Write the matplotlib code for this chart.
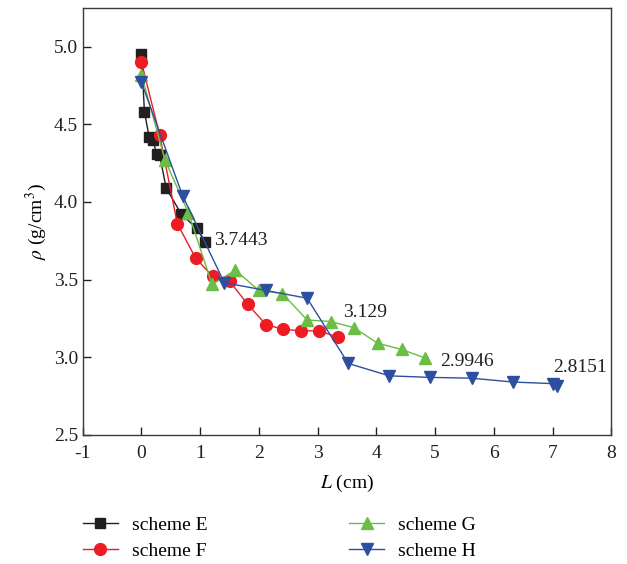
import matplotlib.pyplot as plt

# density along the sample for the four schemes
L_E = [0, 0.05, 0.13, 0.19, 0.26, 0.31, 0.42, 0.68, 0.94, 1.08]
rho_E = [4.95, 4.58, 4.42, 4.40, 4.31, 4.30, 4.09, 3.92, 3.83, 3.7443]

L_F = [0, 0.31, 0.61, 0.92, 1.21, 1.50, 1.81, 2.12, 2.41, 2.72, 3.02, 3.35]
rho_F = [4.90, 4.43, 3.86, 3.64, 3.52, 3.49, 3.34, 3.21, 3.18, 3.17, 3.17, 3.129]

L_G = [0, 0.40, 0.80, 1.20, 1.60, 2.00, 2.40, 2.82, 3.22, 3.62, 4.02, 4.43, 4.83]
rho_G = [4.82, 4.27, 3.93, 3.47, 3.56, 3.43, 3.41, 3.24, 3.23, 3.19, 3.09, 3.05, 2.9946]

L_H = [0, 0.70, 1.41, 2.12, 2.82, 3.52, 4.22, 4.92, 5.62, 6.33, 7.00, 7.07]
rho_H = [4.77, 4.04, 3.48, 3.43, 3.38, 2.96, 2.88, 2.87, 2.865, 2.84, 2.83, 2.8151]

plt.rcParams['font.family'] = ['Liberation Serif', 'DejaVu Serif']
plt.rcParams['mathtext.fontset'] = 'stix'
plt.rcParams['axes.unicode_minus'] = False

fig = plt.figure(figsize=(6.27, 5.64), dpi=100)
ax = fig.add_axes([0.132, 0.229, 0.843, 0.757])

ax.plot(L_E, rho_E, '-s', color='#231f20', lw=1, ms=7.5, label='scheme E')
ax.plot(L_F, rho_F, '-o', color='#ed1c24', lw=1, ms=8.5, label='scheme F')
ax.plot(L_G, rho_G, '-^', color='#6abd45', lw=1, ms=8.5, label='scheme G')
ax.plot(L_H, rho_H, '-v', color='#2e4fa0', lw=1, ms=8.5, label='scheme H')

# end values written next to each curve
ends = [(L_E, rho_E, '{:.4f}', (6.5, 1.0)),
        (L_F, rho_F, '{:.3f}', (3.6, 18)),
        (L_G, rho_G, '{:.4f}', (10.5, -2.5)),
        (L_H, rho_H, '{:.4f}', (-2.6, 13))]
for xs, ys, fmt, off in ends:
    ax.annotate(fmt.format(ys[-1]), (xs[-1], ys[-1]), xytext=off,
                textcoords='offset points', fontsize=14, color='#231f20',
                ha='left', va='center')

ax.set_xlim(-1, 8)
ax.set_ylim(2.5, 5.25)
ax.set_xticks(range(-1, 9))
ax.set_yticks([2.5, 3.0, 3.5, 4.0, 4.5, 5.0])
ax.set_yticklabels(['2.5', '3.0', '3.5', '4.0', '4.5', '5.0'])
ax.tick_params(direction='in', length=6, width=1, labelsize=14, colors='#231f20')
ax.tick_params(axis='x', pad=7)
for s in ax.spines.values():
    s.set_color('#3a3a3a')
    s.set_linewidth(1)

ax.set_xlabel(r'$L$ (cm)', fontsize=14, labelpad=8)
ax.set_ylabel(r'$\rho$ (g/cm$^3$)', fontsize=14, labelpad=3)

fig.legend(loc='upper left', bbox_to_anchor=(0.132, 0.085), ncol=2,
           frameon=False, fontsize=14, columnspacing=7.3, handlelength=1.8,
           handletextpad=0.72, labelspacing=0.46, borderpad=0,
           borderaxespad=0)

fig.savefig('out.png', dpi=100)
